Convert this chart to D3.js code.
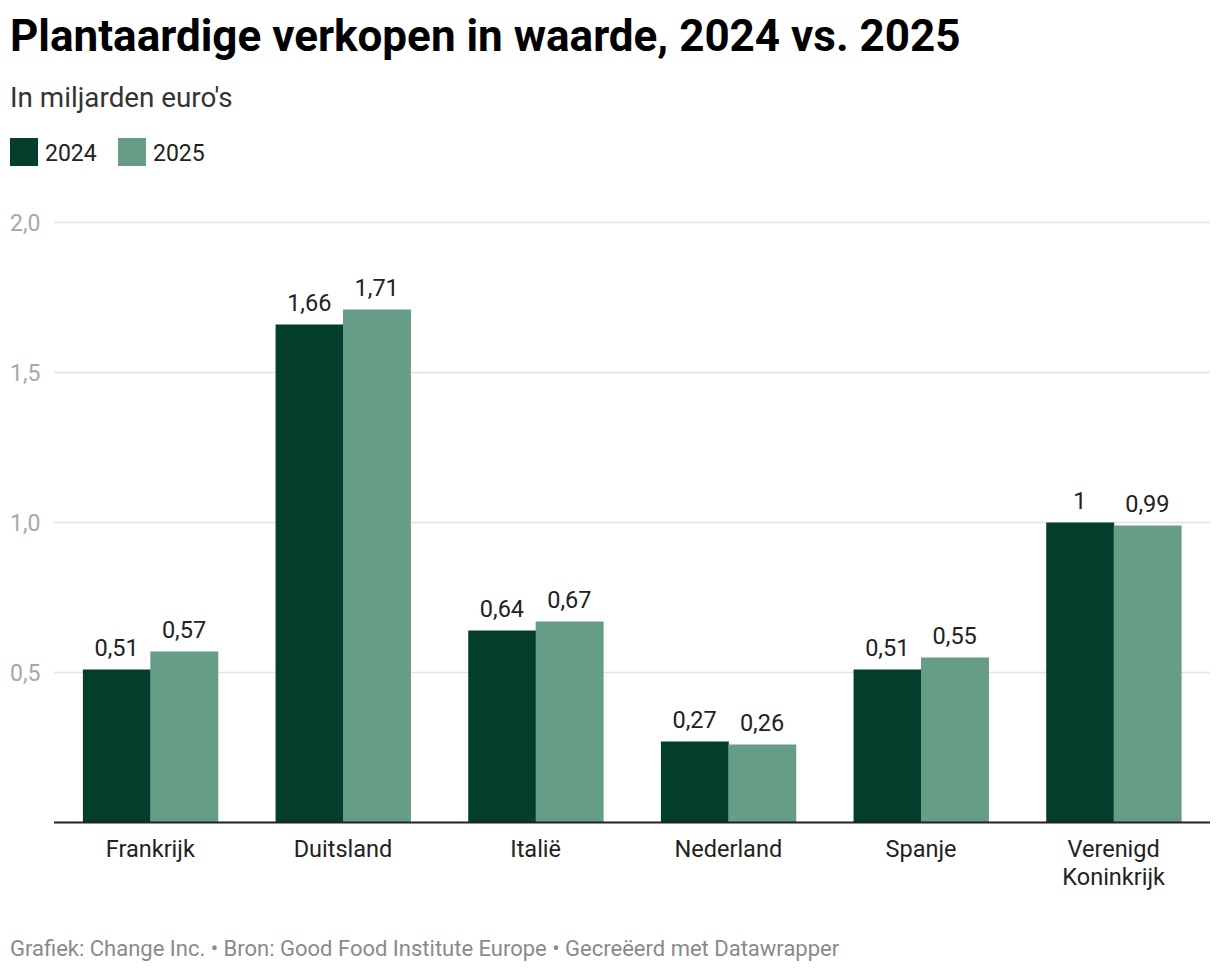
<!DOCTYPE html>
<html>
<head>
<meta charset="utf-8">
<script src="https://cdn.jsdelivr.net/npm/d3@7"></script>
<style>
  body { margin: 0; background: #fff; font-family: Roboto, sans-serif; }
  svg text { font-family: Roboto, sans-serif; }
</style>
</head>
<body>
<div id="chart"></div>
<script>
// Data
const countries = ["Frankrijk", "Duitsland", "Italië", "Nederland", "Spanje", "Verenigd Koninkrijk"];
const years = ["2024", "2025"];
const values2024 = [0.51, 1.66, 0.64, 0.27, 0.51, 1];
const values2025 = [0.57, 1.71, 0.67, 0.26, 0.55, 0.99];
const yTicks = [0.5, 1.0, 1.5, 2.0];

const colors = {"2024": "#033d2c", "2025": "#669d87"};

const W = 1220, H = 972;
const margin = {top: 222.5, right: 10, bottom: 149.5, left: 54};
const width = W - margin.left - margin.right;
const height = H - margin.top - margin.bottom;

const svg = d3.select("#chart")
    .append("svg")
    .attr("width", W)
    .attr("height", H);

// Title, subtitle
svg.append("text")
    .attr("x", 10)
    .attr("y", 51)
    .style("font-size", "44px")
    .style("font-weight", "700")
    .style("fill", "#000")
    .text("Plantaardige verkopen in waarde, 2024 vs. 2025");

svg.append("text")
    .attr("x", 10)
    .attr("y", 107)
    .style("font-size", "27.8px")
    .style("fill", "#333")
    .text("In miljarden euro's");

// Legend
const legend = svg.append("g").attr("transform", "translate(10,138)");
const legendItems = legend.selectAll("g")
    .data(years)
    .enter()
    .append("g")
    .attr("transform", (d, i) => `translate(${i * 108},0)`);
legendItems.append("rect")
    .attr("width", 28)
    .attr("height", 28)
    .style("fill", d => colors[d]);
legendItems.append("text")
    .attr("x", 35)
    .attr("y", 23)
    .style("font-size", "23px")
    .style("fill", "#222")
    .text(d => d);

const g = svg.append("g")
    .attr("transform", `translate(${margin.left},${margin.top})`);

// Scales
const x0 = d3.scaleBand()
    .domain(countries)
    .range([0, width])
    .paddingInner(0.3)
    .paddingOuter(0.15);

const x1 = d3.scaleBand()
    .domain(years)
    .range([0, x0.bandwidth()]);

const y = d3.scaleLinear()
    .domain([0, 2])
    .range([height, 0]);

// Grid lines
g.selectAll(".grid")
    .data(yTicks)
    .enter()
    .append("line")
    .attr("x1", 0)
    .attr("x2", width)
    .attr("y1", d => y(d))
    .attr("y2", d => y(d))
    .style("stroke", "#e3e3e3")
    .style("stroke-width", 1.5);

// Y labels
svg.selectAll(".ylabel")
    .data(yTicks)
    .enter()
    .append("text")
    .attr("x", 10)
    .attr("y", d => margin.top + y(d) + 8)
    .style("font-size", "23px")
    .style("fill", "#a8a8a8")
    .text(d => d3.format(".1f")(d).replace(".", ","));

// Bars
const rows = countries.map((c, i) => ({
    country: c,
    values: [
        {year: "2024", value: values2024[i]},
        {year: "2025", value: values2025[i]}
    ]
}));

const groups = g.selectAll(".group")
    .data(rows)
    .enter()
    .append("g")
    .attr("transform", d => `translate(${x0(d.country)},0)`);

groups.selectAll("rect")
    .data(d => d.values)
    .enter()
    .append("rect")
    .attr("x", d => x1(d.year))
    .attr("width", x1.bandwidth() + 0.5)
    .attr("y", d => y(d.value))
    .attr("height", d => height - y(d.value))
    .style("fill", d => colors[d.year]);

groups.selectAll(".label")
    .data(d => d.values)
    .enter()
    .append("text")
    .attr("x", d => x1(d.year) + x1.bandwidth() / 2)
    .attr("y", d => y(d.value) - 14)
    .style("text-anchor", "middle")
    .style("font-size", "23.5px")
    .style("fill", "#222")
    .text(d => String(d.value).replace(".", ","));

// Baseline
g.append("line")
    .attr("x1", 0)
    .attr("x2", width)
    .attr("y1", height)
    .attr("y2", height)
    .style("stroke", "#222")
    .style("stroke-width", 2);

// X labels (wrap on space for long names)
const xLabels = g.selectAll(".xlabel")
    .data(countries)
    .enter()
    .append("text")
    .attr("x", d => x0(d) + x0.bandwidth() / 2)
    .attr("y", height + 34)
    .style("text-anchor", "middle")
    .style("font-size", "23.5px")
    .style("fill", "#222");

xLabels.each(function(d) {
    const parts = d === "Verenigd Koninkrijk" ? d.split(" ") : [d];
    d3.select(this).selectAll("tspan")
        .data(parts)
        .enter()
        .append("tspan")
        .attr("x", x0(d) + x0.bandwidth() / 2)
        .attr("dy", (p, i) => i === 0 ? 0 : 28)
        .text(p => p);
});

// Footer
svg.append("text")
    .attr("x", 10)
    .attr("y", 956)
    .style("font-size", "22px")
    .style("fill", "#8a8a8a")
    .text("Grafiek: Change Inc. • Bron: Good Food Institute Europe • Gecreëerd met Datawrapper");
</script>
</body>
</html>
